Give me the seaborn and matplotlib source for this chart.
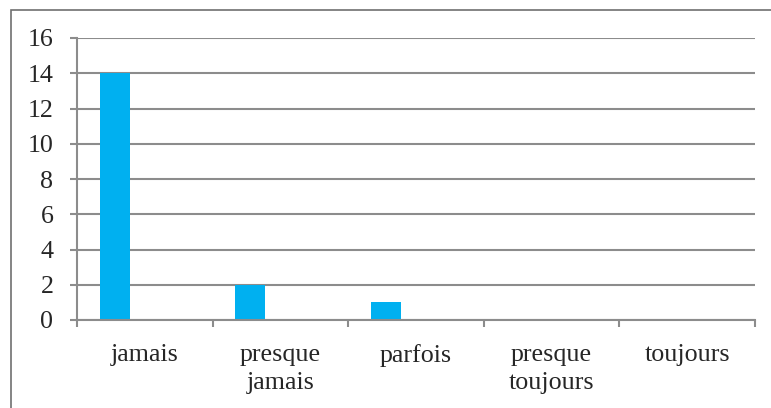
import pandas as pd
import seaborn as sns
import matplotlib.pyplot as plt
from matplotlib.patches import Rectangle

categories = ['jamais', 'presque\njamais', 'parfois', 'presque\ntoujours', 'toujours']
series1 = [14, 2, 1, 0, 0]
# the Excel chart has 3 series slots, only the first one carries data
series2 = [0, 0, 0, 0, 0]
series3 = [0, 0, 0, 0, 0]
yticks = [0, 2, 4, 6, 8, 10, 12, 14, 16]

df = pd.DataFrame({
    'cat': categories * 3,
    'val': series1 + series2 + series3,
    'serie': ['s1'] * 5 + ['s2'] * 5 + ['s3'] * 5,
})

sns.set_style('white')
plt.rcParams['font.family'] = ['Liberation Serif', 'DejaVu Serif']
plt.rcParams['font.size'] = 18.7

grid_col = '#8c8c8c'

fig = plt.figure(figsize=(7.71, 4.08), dpi=100)
ax = fig.add_axes([77 / 771, 1 - 320 / 408, (755 - 77) / 771, (320 - 38) / 408])

sns.barplot(data=df, x='cat', y='val', hue='serie', order=categories,
            hue_order=['s1', 's2', 's3'], palette=['#00b0f0', '#00b0f0', '#00b0f0'],
            saturation=1, width=2 / 3, linewidth=0, legend=False, errorbar=None, ax=ax)

ax.set_xlim(-0.5, 4.5)
ax.set_ylim(0, 16)
ax.set_yticks(yticks)
ax.set_xlabel('')
ax.set_ylabel('')

ax.yaxis.grid(True, color=grid_col, linewidth=1.5)
ax.set_axisbelow(True)
for s in ['top', 'right']:
    ax.spines[s].set_visible(False)
for s in ['left', 'bottom']:
    ax.spines[s].set_color(grid_col)
    ax.spines[s].set_linewidth(1.5)

ax.tick_params(axis='y', left=True, length=5, width=1.5, color=grid_col, pad=12, labelsize=18.7)
ax.tick_params(axis='x', which='major', length=0, pad=17, labelsize=18.7)
ax.set_xticks([i - 0.5 for i in range(6)], minor=True)
ax.tick_params(axis='x', which='minor', bottom=True, length=5, width=1.5, color=grid_col)
for t in ax.get_xticklabels():
    t.set_linespacing(1.4)

# outer chart frame (only top and left edges visible in the crop)
fig.patches.append(Rectangle((11 / 771, -0.1), 1.2, 1 - 9.5 / 408 + 0.1, transform=fig.transFigure,
                             fill=False, edgecolor='#707070', linewidth=1.2))

fig.savefig('out.png', dpi=100)
